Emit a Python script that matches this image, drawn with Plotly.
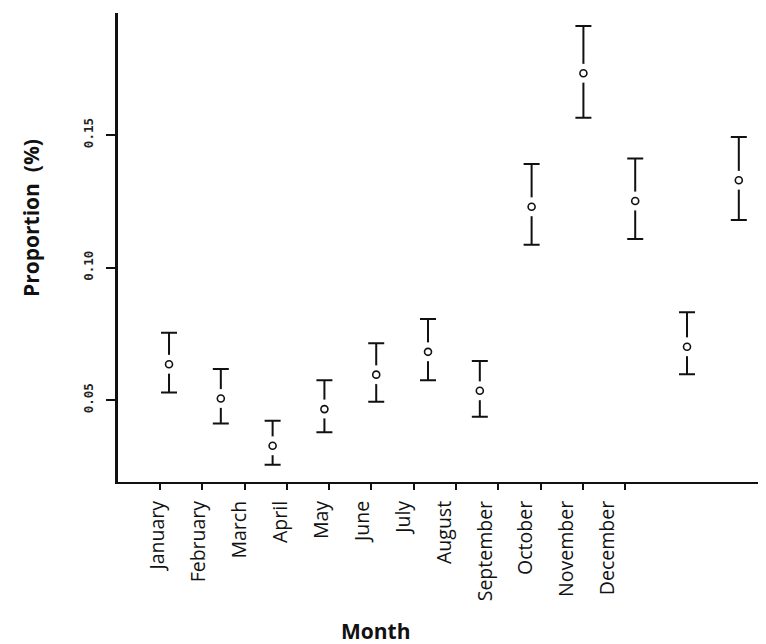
import plotly.graph_objects as go

months = ["January", "February", "March", "April", "May", "June", "July",
          "August", "September", "October", "November", "December"]
proportion = [0.0635, 0.0506, 0.0328, 0.0466, 0.0596, 0.0682, 0.0535,
              0.1229, 0.1733, 0.1251, 0.0701, 0.1329]
upper = [0.0754, 0.0617, 0.0422, 0.0575, 0.0714, 0.0806, 0.0647,
         0.1390, 0.1911, 0.1411, 0.0831, 0.1492]
lower = [0.0529, 0.0412, 0.0256, 0.0379, 0.0494, 0.0575, 0.0437,
         0.1086, 0.1565, 0.1108, 0.0597, 0.1179]
y_ticks = [0.05, 0.10, 0.15]
y_tick_text = ["0.05", "0.10", "0.15"]

err_plus = [u - p for u, p in zip(upper, proportion)]
err_minus = [p - l for p, l in zip(proportion, lower)]

fig = go.Figure()
fig.add_trace(go.Scatter(
    x=months, y=proportion, mode="markers",
    marker=dict(size=1, color="rgba(0,0,0,0)"),
    error_y=dict(type="data", symmetric=False, array=err_plus, arrayminus=err_minus,
                 color="#111111", thickness=2, width=8),
    showlegend=False, hoverinfo="skip"))
fig.add_trace(go.Scatter(
    x=months, y=proportion, mode="markers",
    marker=dict(size=19, color="white", line=dict(width=0)),
    showlegend=False, hoverinfo="skip"))
fig.add_trace(go.Scatter(
    x=months, y=proportion, mode="markers",
    marker=dict(symbol="circle-open", size=7, color="#111111", line=dict(width=1.6)),
    showlegend=False))

idx = list(range(len(months)))

# page body has an 8px margin, so the figure is sized/offset to compensate
fig.update_layout(
    width=758, height=636,
    margin=dict(l=110, r=0, t=5, b=162),
    paper_bgcolor="white", plot_bgcolor="white",
    xaxis=dict(type="category", range=[-0.985, 11.525], showticklabels=False,
               ticks="", showgrid=False, zeroline=False, automargin=False,
               showline=True, linecolor="#111111", linewidth=2),
    xaxis2=dict(overlaying="x", anchor="y", side="bottom", type="linear",
                range=[-0.993, 14.33], tickvals=idx, ticktext=[""] * len(idx),
                ticks="outside", ticklen=7, tickwidth=1.5, tickcolor="#111111",
                showgrid=False, zeroline=False, showline=False, automargin=False),
    xaxis3=dict(overlaying="x", anchor="y", side="bottom", type="linear",
                range=[-0.978, 14.866], tickvals=idx, ticktext=months,
                ticks="", tickangle=-90, ticklabelstandoff=14,
                tickfont=dict(family="Open Sans", size=19.5, color="#111111"),
                showgrid=False, zeroline=False, showline=False, automargin=False),
    yaxis=dict(range=[0.0191, 0.196], tickvals=y_ticks,
               ticktext=["<b>" + t + "</b>" for t in y_tick_text],
               tickangle=-90, ticks="outside", ticklen=9, tickwidth=1.5,
               tickcolor="#111111", ticklabelstandoff=8, automargin=False,
               tickfont=dict(family="DejaVu Sans Mono", size=12.5, color="#222222"),
               showgrid=False, zeroline=False,
               showline=True, linecolor="#111111", linewidth=2.5),
    annotations=[
        dict(text="<b>Month</b>", xref="paper", yref="paper",
             x=(376 - 118) / 648, y=-(631 - 482) / 469,
             xanchor="center", yanchor="middle", showarrow=False,
             font=dict(family="Open Sans", size=21, color="#111111")),
        dict(text="<b>Proportion  (%)</b>", xref="paper", yref="paper",
             x=-(118 - 31) / 648, y=(482 - 218) / 469, textangle=-90,
             xanchor="center", yanchor="middle", showarrow=False,
             font=dict(family="Open Sans", size=21, color="#111111")),
    ],
)
# dummy traces to activate overlay axes
fig.add_trace(go.Scatter(x=[0], y=[0.1], xaxis="x2", mode="markers",
                         marker=dict(opacity=0), showlegend=False, hoverinfo="skip"))
fig.add_trace(go.Scatter(x=[0], y=[0.1], xaxis="x3", mode="markers",
                         marker=dict(opacity=0), showlegend=False, hoverinfo="skip"))

fig.write_html("out.html")
